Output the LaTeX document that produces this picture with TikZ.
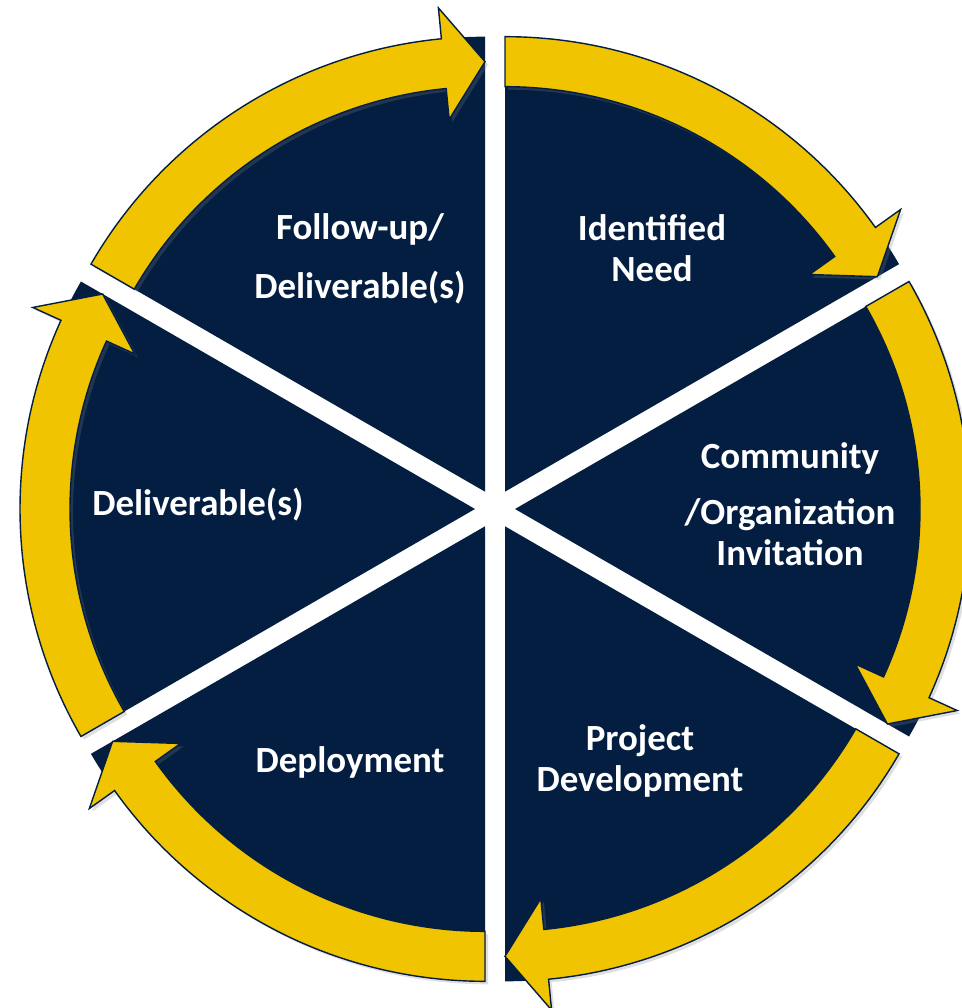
\documentclass[tikz,border=0pt]{standalone}
\usepackage{fontspec}
\setmainfont{Carlito}
\usetikzlibrary{positioning, calc, shadows}
\definecolor{navy}{HTML}{041E42}
\definecolor{gold}{HTML}{F0C400}
\tikzset{
  slice/.style={fill=navy}, % dark pie slice
  ring arrow/.style={
	fill=gold, draw=navy, line width=0.8pt, line join=miter, % yellow body with thin dark rim
	drop shadow={opacity=0.25, shadow xshift=0.06cm, shadow yshift=-0.06cm}, % soft shadow
  },
  stage/.style={text=white, font=\bfseries\fontsize{21}{23}\selectfont, align=center}, % white labels
}

\begin{document}
\begin{tikzpicture}
\useasboundingbox (-9.9,-9.98) rectangle (9.32,10.18);

% pie slices, each pushed out along its middle
\fill[slice, shift={(60:0.4)}]  (0,0) -- (90:9.1)  arc[start angle=90,  end angle=30,   radius=9.1] -- cycle;
\fill[slice, shift={(0:0.4)}]   (0,0) -- (30:9.1)  arc[start angle=30,  end angle=-30,  radius=9.1] -- cycle;
\fill[slice, shift={(-60:0.4)}] (0,0) -- (-30:9.1) arc[start angle=-30, end angle=-90,  radius=9.1] -- cycle;
\fill[slice, shift={(-120:0.4)}](0,0) -- (-90:9.1) arc[start angle=-90, end angle=-150, radius=9.1] -- cycle;
\fill[slice, shift={(180:0.4)}] (0,0) -- (210:9.1) arc[start angle=210, end angle=150,  radius=9.1] -- cycle;
\fill[slice, shift={(120:0.4)}] (0,0) -- (150:9.1) arc[start angle=150, end angle=90,   radius=9.1] -- cycle;

% curved arrows on the rim
\filldraw[ring arrow, shift={(60:0.4)}] (90:9.1) arc[start angle=90, end angle=35.5, radius=9.1]
	-- (35.5:9.72) -- (30:8.6) -- (35.5:7.48) -- (35.5:8.1) arc[start angle=35.5, end angle=90, radius=8.1] -- cycle;
\filldraw[ring arrow, shift={(0:0.4)}] (30:9.1) arc[start angle=30, end angle=-24.5, radius=9.1]
	-- (-24.5:9.72) -- (-30:8.6) -- (-24.5:7.48) -- (-24.5:8.1) arc[start angle=-24.5, end angle=30, radius=8.1] -- cycle;
\filldraw[ring arrow, shift={(-60:0.4)}] (-30:9.1) arc[start angle=-30, end angle=-84.5, radius=9.1]
	-- (-84.5:9.72) -- (-90:8.6) -- (-84.5:7.48) -- (-84.5:8.1) arc[start angle=-84.5, end angle=-30, radius=8.1] -- cycle;
\filldraw[ring arrow, shift={(-120:0.4)}] (-90:9.1) arc[start angle=-90, end angle=-144.5, radius=9.1]
	-- (-144.5:9.72) -- (-150:8.6) -- (-144.5:7.48) -- (-144.5:8.1) arc[start angle=-144.5, end angle=-90, radius=8.1] -- cycle;
\filldraw[ring arrow, shift={(180:0.4)}] (210:9.1) arc[start angle=210, end angle=155.5, radius=9.1]
	-- (155.5:9.72) -- (150:8.6) -- (155.5:7.48) -- (155.5:8.1) arc[start angle=155.5, end angle=210, radius=8.1] -- cycle;
\filldraw[ring arrow, shift={(120:0.4)}] (150:9.1) arc[start angle=150, end angle=95.5, radius=9.1]
	-- (95.5:9.72) -- (90:8.6) -- (95.5:7.48) -- (95.5:8.1) arc[start angle=95.5, end angle=150, radius=8.1] -- cycle;

% stage labels
\node[stage] (need) at (3.14,5.22) {Identified\\Need};
\node[stage] (invite) at (5.9,0.1) {Community\\[0.32cm]/Organization\\Invitation};
\node[stage] (develop) at (2.9,-5.04) {Project\\Development};
\node[stage] (deploy) at (-2.9,-5.06) {Deployment};
\node[stage] (deliver) at (-5.94,0.08) {Deliverable(s)};
\node[stage] (follow) at (-2.7,5.0) {Follow-up/\\[0.36cm]Deliverable(s)};
\end{tikzpicture}
\end{document}
